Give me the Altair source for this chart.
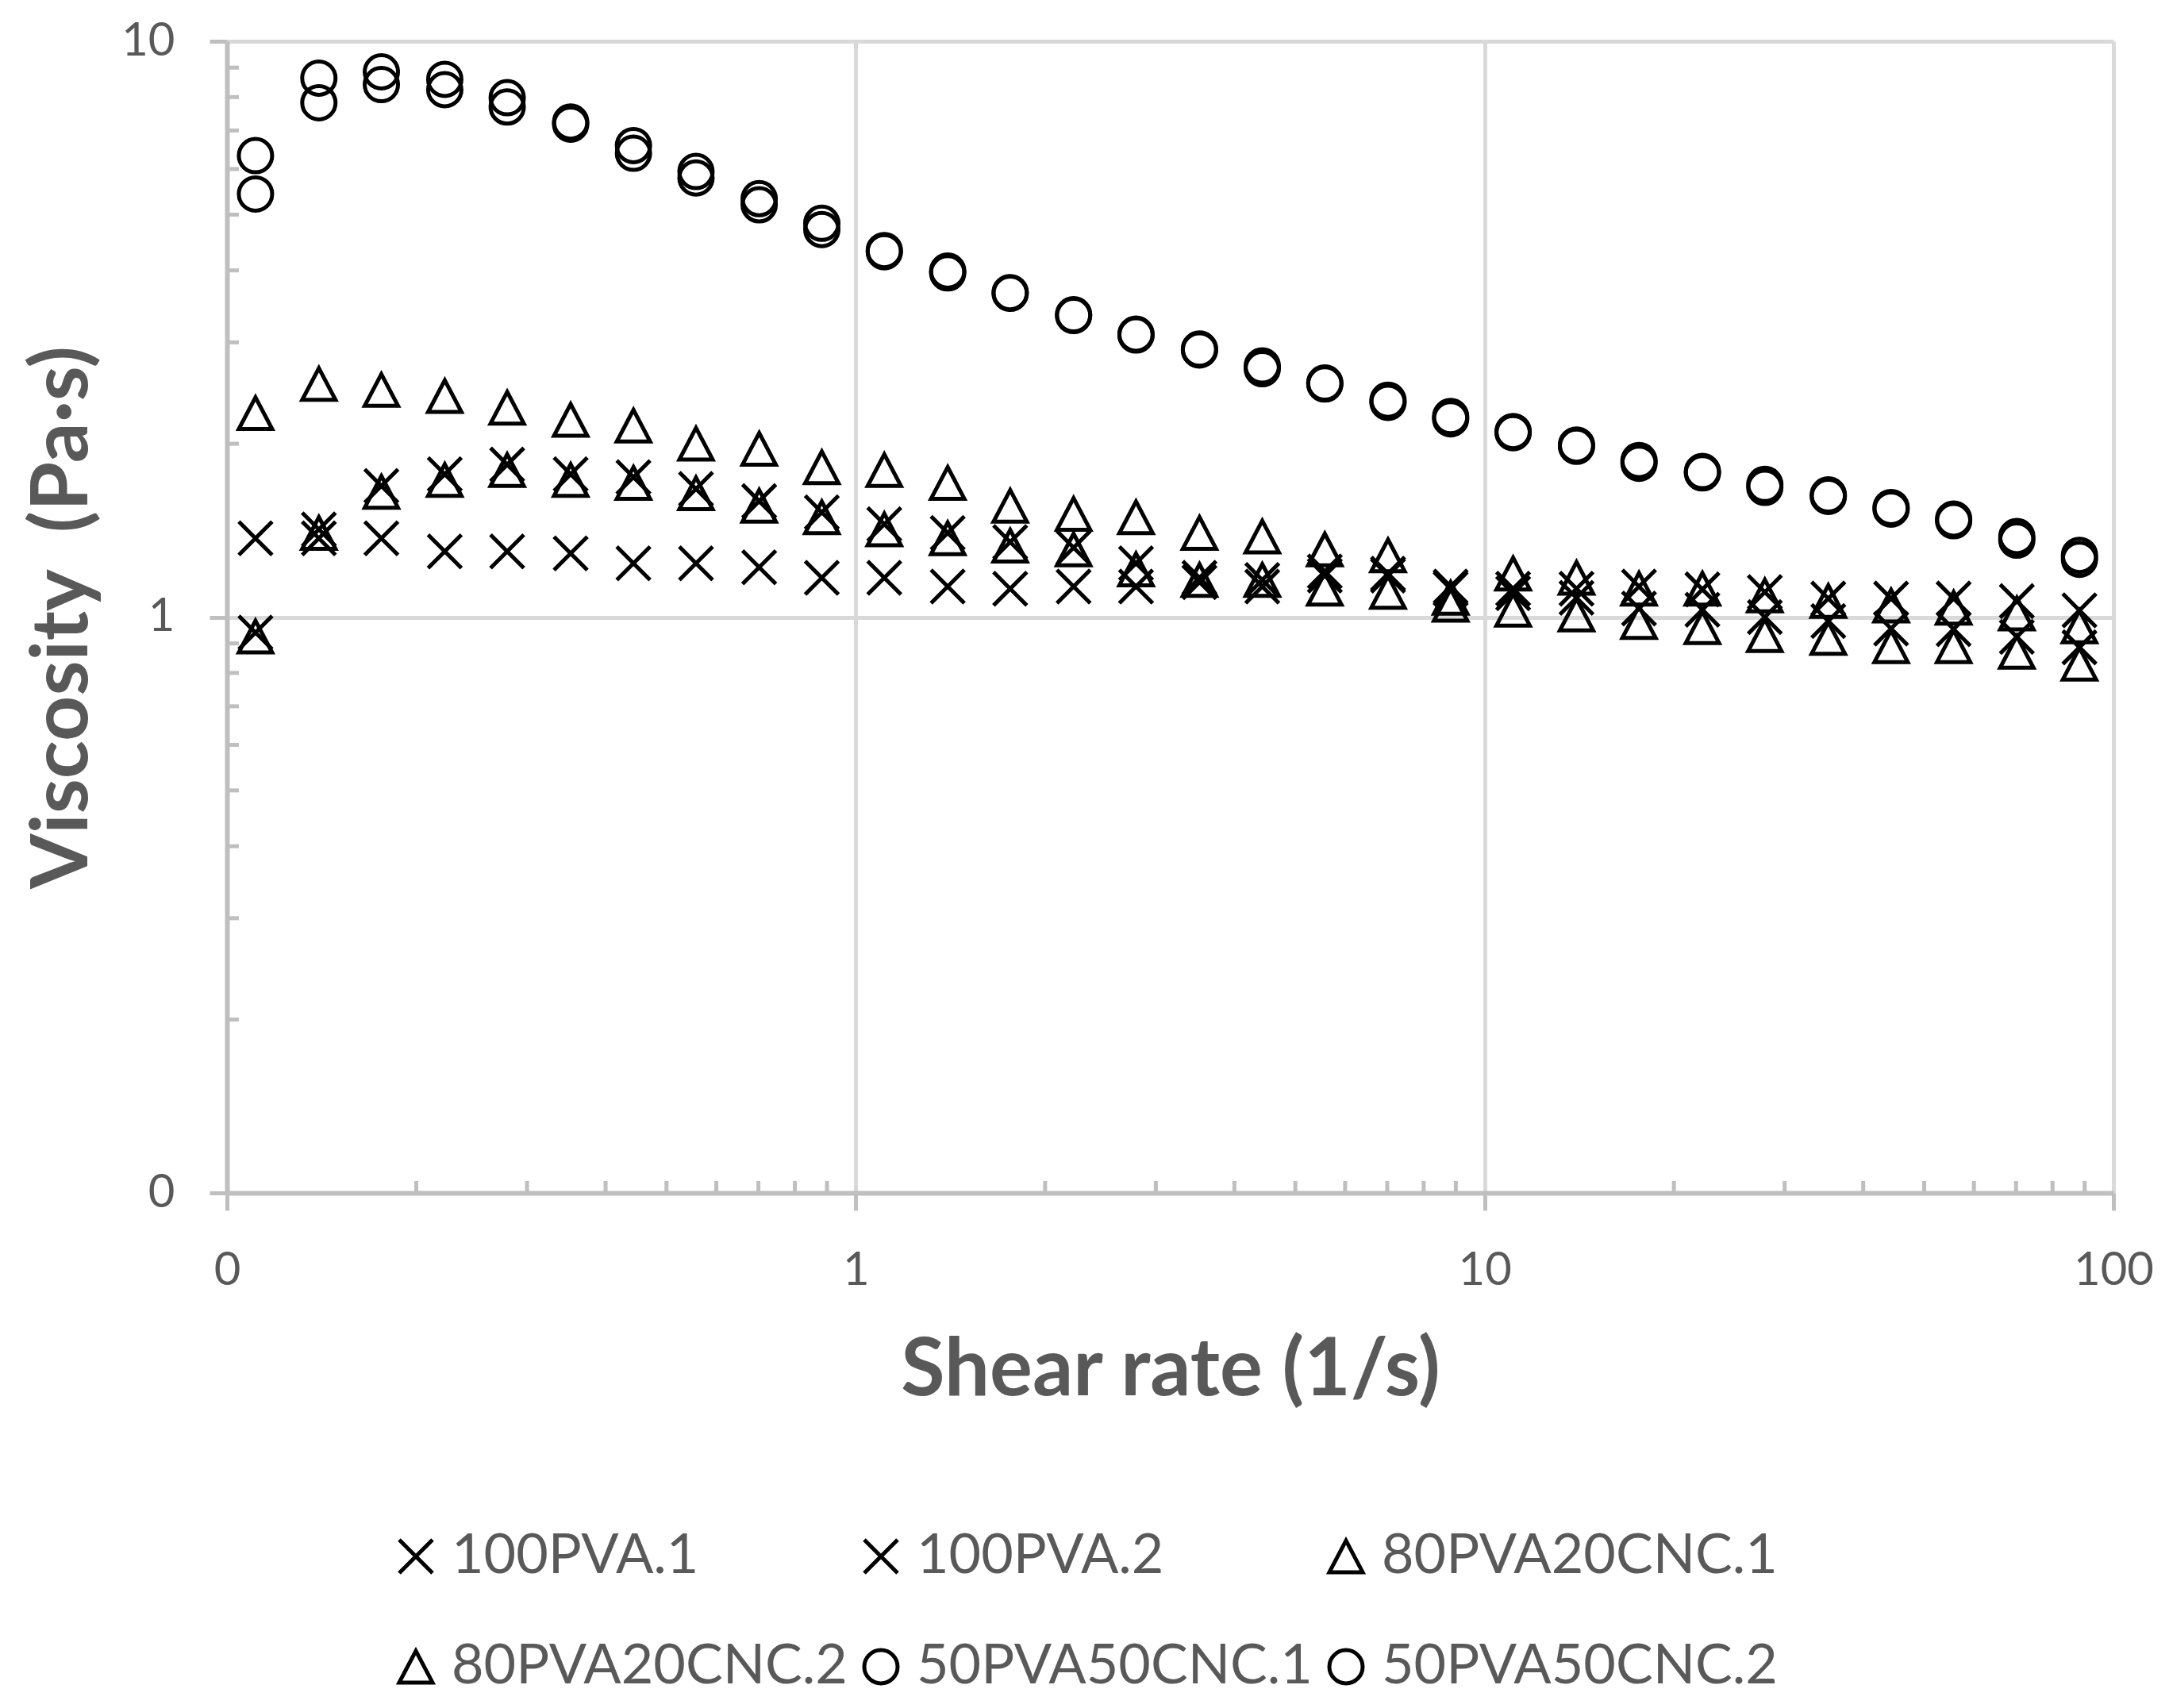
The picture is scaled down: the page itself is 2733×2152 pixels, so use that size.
import altair as alt
import pandas as pd

# ---------------- data ----------------
shear_rate = [0.111, 0.140, 0.176, 0.222, 0.279, 0.352, 0.443, 0.557, 0.702, 0.883,
              1.11, 1.40, 1.76, 2.22, 2.79, 3.52, 4.43, 5.57, 7.02, 8.83,
              11.1, 14.0, 17.6, 22.2, 27.9, 35.2, 44.3, 55.7, 70.2, 88.3]

pva_1 = [1.37, 1.37, 1.37, 1.30, 1.30, 1.29, 1.24, 1.24, 1.22, 1.17,
         1.17, 1.13, 1.12, 1.13, 1.13, 1.15, 1.13, 1.18, 1.18, 1.13,
         1.10, 1.08, 1.035, 1.03, 1.00, 0.984, 0.955, 0.953, 0.924, 0.886]

pva_2 = [0.94, 1.42, 1.69, 1.77, 1.84, 1.77, 1.75, 1.67, 1.59, 1.52,
         1.45, 1.40, 1.35, 1.32, 1.24, 1.17, 1.16, 1.20, 1.19, 1.12,
         1.12, 1.12, 1.13, 1.117, 1.105, 1.077, 1.077, 1.077, 1.066, 1.027]

cnc20_1 = [2.26, 2.54, 2.48, 2.42, 2.31, 2.20, 2.15, 2.00, 1.96, 1.82,
           1.80, 1.71, 1.56, 1.51, 1.49, 1.40, 1.38, 1.31, 1.28, 1.08,
           1.19, 1.17, 1.12, 1.12, 1.09, 1.066, 1.047, 1.038, 1.014, 0.963]

cnc20_2 = [0.925, 1.40, 1.65, 1.73, 1.80, 1.73, 1.71, 1.64, 1.56, 1.49,
           1.42, 1.37, 1.33, 1.31, 1.21, 1.16, 1.16, 1.12, 1.106, 1.05,
           1.03, 1.01, 0.98, 0.96, 0.93, 0.92, 0.89, 0.89, 0.87, 0.83]

cnc50_1 = [6.33, 8.63, 8.85, 8.59, 7.98, 7.24, 6.59, 5.94, 5.33, 4.83,
           4.33, 3.99, 3.66, 3.35, 3.10, 2.92, 2.73, 2.55, 2.38, 2.23,
           2.10, 1.99, 1.87, 1.79, 1.70, 1.63, 1.55, 1.48, 1.38, 1.28]

cnc50_2 = [5.43, 7.82, 8.41, 8.24, 7.69, 7.18, 6.39, 5.79, 5.20, 4.71,
           4.31, 3.96, 3.65, 3.34, 3.09, 2.91, 2.70, 2.54, 2.36, 2.21,
           2.09, 1.98, 1.85, 1.78, 1.68, 1.62, 1.54, 1.47, 1.36, 1.26]

series_names = ["100PVA.1", "100PVA.2", "80PVA20CNC.1",
                "80PVA20CNC.2", "50PVA50CNC.1", "50PVA50CNC.2"]
series_values = [pva_1, pva_2, cnc20_1, cnc20_2, cnc50_1, cnc50_2]

x_major = [0.1, 1, 10, 100]
y_major = [0.1, 1, 10]
x_minor = [0.2, 0.3, 0.4, 0.5, 0.6, 0.7, 0.8, 0.9,
           2, 3, 4, 5, 6, 7, 8, 9,
           20, 30, 40, 50, 60, 70, 80, 90]
y_minor = [0.2, 0.3, 0.4, 0.5, 0.6, 0.7, 0.8, 0.9,
           2, 3, 4, 5, 6, 7, 8, 9]

rows = []
for name, vals in zip(series_names, series_values):
    for xv, yv in zip(shear_rate, vals):
        rows.append({"shear": xv, "visc": yv, "series": name})
df = pd.DataFrame(rows)

# ---------------- styling ----------------
W, H = 2377, 1451
FONT = "Lato"
GRAY_TXT = "#595959"
AXIS_GRAY = "#bfbfbf"
GRID_GRAY = "#d9d9d9"

X_PATH = "M-1,-1L1,1M-1,1L1,-1"
TRI_PATH = "M0,-0.95L1,0.95L-1,0.95Z"
shape_range = [X_PATH, X_PATH, TRI_PATH, TRI_PATH, "circle", "circle"]
size_range = [1764, 1764, 1764, 1764, 1160, 1160]

xscale = alt.Scale(type="log", domain=[0.1, 100], nice=False)
yscale = alt.Scale(type="log", domain=[0.1, 10], nice=False)

x_axis = alt.Axis(values=x_major, format=".0f", labelFlush=False,
                  title="Shear rate (1/s)", titleFont=FONT, titleFontWeight="bold",
                  titleFontSize=101, titleColor=GRAY_TXT, titleBaseline="alphabetic",
                  titleY=254,
                  labelFont=FONT, labelFontSize=58, labelColor=GRAY_TXT, labelPadding=47,
                  tickSize=22, tickColor=AXIS_GRAY, tickWidth=5,
                  domainColor=AXIS_GRAY, domainWidth=6,
                  grid=True, gridColor=GRID_GRAY, gridWidth=5)

y_axis = alt.Axis(values=y_major, format=".0f", labelFlush=False,
                  title="Viscosity\u00a0 (Pa·s)", titleFont=FONT, titleFontWeight="bold",
                  titleFontSize=100, titleColor=GRAY_TXT, titleAngle=270,
                  titleBaseline="alphabetic", titleAlign="center",
                  titleX=-177, titleY=H / 2,
                  labelFont=FONT, labelFontSize=58, labelColor=GRAY_TXT, labelPadding=44,
                  tickSize=22, tickColor=AXIS_GRAY, tickWidth=5,
                  domainColor=AXIS_GRAY, domainWidth=6,
                  grid=True, gridColor=GRID_GRAY, gridWidth=5)

legend = alt.Legend(orient="none", legendX=203, legendY=1874, columns=3,
                    direction="horizontal", title=None, padding=0,
                    labelFont=FONT, labelFontSize=70, labelColor=GRAY_TXT,
                    labelLimit=1000, labelOffset=10,
                    symbolStrokeColor="black", symbolStrokeWidth=5,
                    symbolFillColor="transparent",
                    columnPadding=7, rowPadding=69, gridAlign="all")

points = alt.Chart(df).mark_point(filled=False, color="black", strokeWidth=5,
                                  opacity=1).encode(
    x=alt.X("shear:Q", scale=xscale, axis=x_axis),
    y=alt.Y("visc:Q", scale=yscale, axis=y_axis),
    shape=alt.Shape("series:N", sort=series_names,
                    scale=alt.Scale(domain=series_names, range=shape_range),
                    legend=legend),
    size=alt.Size("series:N", sort=series_names,
                  scale=alt.Scale(domain=series_names, range=size_range),
                  legend=legend),
)

ytick_df = pd.DataFrame({"visc": y_minor})
xtick_df = pd.DataFrame({"shear": x_minor})

y_minor_ticks = alt.Chart(ytick_df).mark_rule(color=AXIS_GRAY, strokeWidth=5).encode(
    y=alt.Y("visc:Q", scale=yscale, axis=y_axis),
    x=alt.value(0),
    x2=alt.value(15),
)
x_minor_ticks = alt.Chart(xtick_df).mark_rule(color=AXIS_GRAY, strokeWidth=5).encode(
    x=alt.X("shear:Q", scale=xscale, axis=x_axis),
    y=alt.value(H - 15),
    y2=alt.value(H),
)

chart = alt.layer(points, y_minor_ticks, x_minor_ticks).properties(
    width=W, height=H,
    autosize=alt.AutoSizeParams(type="none"),
    padding={"left": 278, "top": 44, "right": 54, "bottom": 634},
).configure_view(strokeWidth=0).configure(font=FONT)

chart.save("out.html", embed_options={"renderer": "svg", "actions": False})
